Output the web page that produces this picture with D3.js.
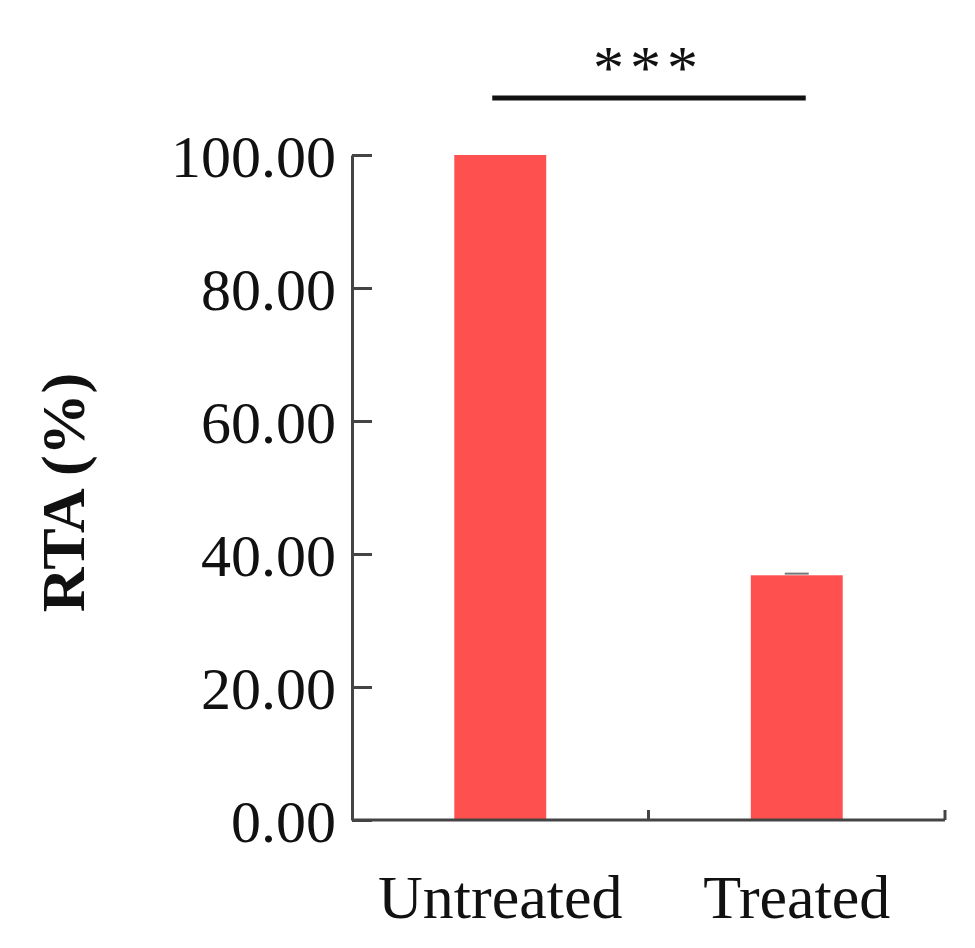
<!DOCTYPE html>
<html><head><meta charset="utf-8">
<script src="https://cdn.jsdelivr.net/npm/d3@7"></script>
<style>body{margin:0;background:#fff} svg text{font-family:'Liberation Serif','Times New Roman',serif}</style>
</head><body>
<script>
var groups = ["Untreated", "Treated"];
var values = [100, 36.8];
var errors = [0, 0.25];
var yTicks = [0, 20, 40, 60, 80, 100];

var W = 975, H = 948;
var m = {left: 352, right: 30, top: 155, bottom: 128};
var svg = d3.select("body").append("svg").attr("width", W).attr("height", H);

var x = d3.scaleBand().domain(groups).range([m.left, 945]).paddingInner(0.69).paddingOuter(0.345);
var y = d3.scaleLinear().domain([0, 100]).range([H - m.bottom, m.top]);
var ink = "#444";

// bars
svg.selectAll("rect.bar").data(values).enter().append("rect")
  .attr("x", function(d, i) { return x(groups[i]); })
  .attr("y", function(d) { return y(d); })
  .attr("width", x.bandwidth())
  .attr("height", function(d) { return y(0) - y(d); })
  .attr("fill", "#ff5050");

// error caps
values.forEach(function(v, i) {
  if (!errors[i]) return;
  var cx = x(groups[i]) + x.bandwidth() / 2;
  svg.append("line").attr("x1", cx - 12).attr("x2", cx + 12)
    .attr("y1", y(v + errors[i])).attr("y2", y(v + errors[i]))
    .attr("stroke", "#777").attr("stroke-width", 2);
});

// y axis, ticks inside
var ya = svg.append("g").attr("transform", "translate(" + m.left + ",0)")
  .call(d3.axisRight(y).tickValues(yTicks).tickSize(20).tickSizeOuter(0).tickFormat(""));
ya.selectAll("path,line").attr("stroke", ink).attr("stroke-width", 3);
ya.selectAll(".tick").data(yTicks).append("text")
  .attr("x", -16).attr("dy", "0.35em").attr("text-anchor", "end")
  .attr("fill", "#111").style("font-size", "60px")
  .text(function(d) { return d.toFixed(2); });

// x axis with boundary ticks pointing up
var y0 = y(0);
svg.append("line").attr("x1", m.left).attr("x2", 945).attr("y1", y0).attr("y2", y0)
  .attr("stroke", ink).attr("stroke-width", 3);
var step = x.step();
[m.left + step * 0.345 + step - x.paddingInner() * step / 2 , 945].forEach(function(px) {
  svg.append("line").attr("x1", px).attr("x2", px).attr("y1", y0).attr("y2", y0 - 10)
    .attr("stroke", ink).attr("stroke-width", 3);
});
groups.forEach(function(g) {
  svg.append("text").attr("x", x(g) + x.bandwidth() / 2).attr("y", y0 + 98)
    .attr("text-anchor", "middle").attr("fill", "#111").style("font-size", "62px").text(g);
});

// y title
svg.append("text").attr("transform", "translate(84," + (y(50) + 5) + ") rotate(-90)")
  .attr("text-anchor", "middle").style("font-size", "62px").style("font-weight", "bold")
  .attr("fill", "#111").text("RTA (%)");

// significance
var cA = x(groups[0]) + x.bandwidth() / 2, cB = x(groups[1]) + x.bandwidth() / 2;
svg.append("line").attr("x1", cA - 8).attr("x2", cB + 9).attr("y1", 98).attr("y2", 98)
  .attr("stroke", "#111").attr("stroke-width", 5);
svg.append("text").attr("x", (cA + cB) / 2).attr("y", 88).attr("text-anchor", "middle")
  .style("font-size", "62px").style("letter-spacing", "6px").attr("fill", "#111").text("***");
</script>
</body></html>
